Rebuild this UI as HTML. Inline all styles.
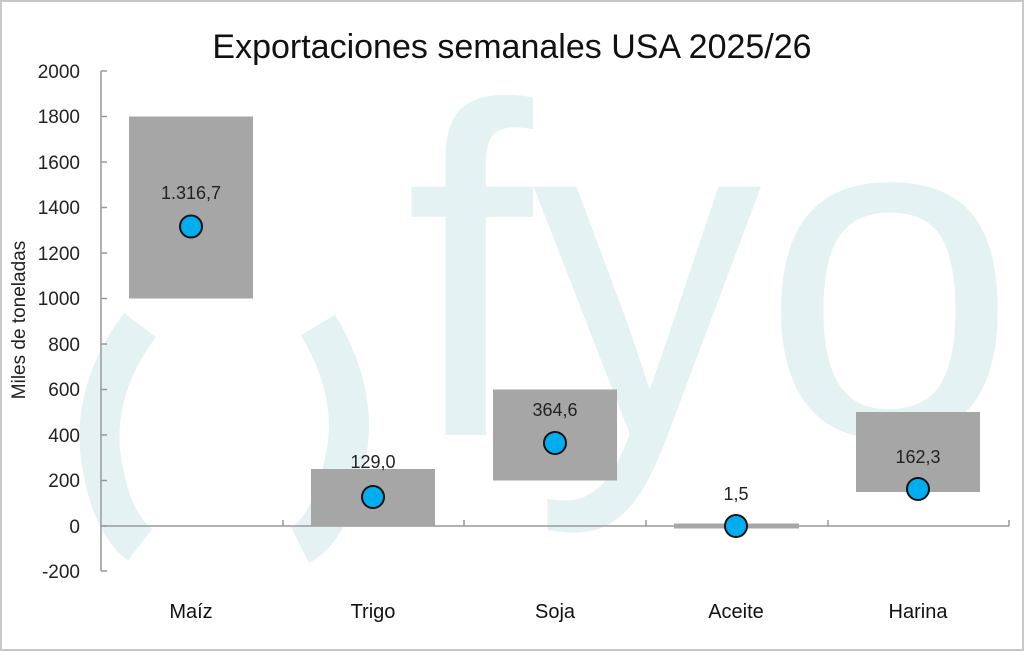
<!DOCTYPE html>
<html><head><meta charset="utf-8"><style>
html,body{margin:0;padding:0;background:#fff}
svg{display:block}
text{font-family:"Liberation Sans",sans-serif}
</style></head><body>
<svg width="1024" height="651" viewBox="0 0 1024 651" xmlns="http://www.w3.org/2000/svg">
<rect x="1" y="1" width="1022" height="649" fill="#fff" stroke="#c8c8c8" stroke-width="2"/>
<text x="405" y="435" font-size="470" fill="#e5f2f4" textLength="612" lengthAdjust="spacingAndGlyphs">fyo</text>
<path d="M140 325 Q95 385 100 450 Q108 520 140 545" fill="none" stroke="#e5f2f4" stroke-width="40"/>
<path d="M318 325 Q360 395 345 460 Q330 530 300 545" fill="none" stroke="#e5f2f4" stroke-width="40"/>
<text x="512" y="58" font-size="34" text-anchor="middle" fill="#111">Exportaciones semanales USA 2025/26</text>
<g stroke="#999" stroke-width="1.5">
<line x1="101" y1="71" x2="101" y2="571"/>
<line x1="101" y1="71" x2="107" y2="71"/><line x1="101" y1="116.5" x2="107" y2="116.5"/>
<line x1="101" y1="162" x2="107" y2="162"/><line x1="101" y1="207.5" x2="107" y2="207.5"/>
<line x1="101" y1="253" x2="107" y2="253"/><line x1="101" y1="298.5" x2="107" y2="298.5"/>
<line x1="101" y1="344" x2="107" y2="344"/><line x1="101" y1="389.5" x2="107" y2="389.5"/>
<line x1="101" y1="435" x2="107" y2="435"/><line x1="101" y1="480.5" x2="107" y2="480.5"/>
<line x1="101" y1="526" x2="107" y2="526"/><line x1="101" y1="571" x2="107" y2="571"/>
<line x1="101" y1="526" x2="1009" y2="526"/>
<line x1="283" y1="520" x2="283" y2="526"/><line x1="464" y1="520" x2="464" y2="526"/>
<line x1="646" y1="520" x2="646" y2="526"/><line x1="828" y1="520" x2="828" y2="526"/>
<line x1="1009" y1="520" x2="1009" y2="526"/>
</g>
<g font-size="19" fill="#222" text-anchor="end">
<text x="80" y="78">2000</text><text x="80" y="123">1800</text><text x="80" y="169">1600</text>
<text x="80" y="214">1400</text><text x="80" y="260">1200</text><text x="80" y="305">1000</text>
<text x="80" y="351">800</text><text x="80" y="396">600</text><text x="80" y="442">400</text>
<text x="80" y="487">200</text><text x="80" y="533">0</text><text x="80" y="578">-200</text>
</g>
<text transform="translate(25,320) rotate(-90)" font-size="19" fill="#222" text-anchor="middle">Miles de toneladas</text>
<g fill="#a6a6a6">
<rect x="129" y="116.5" width="124" height="182"/>
<rect x="311" y="469" width="124" height="57"/>
<rect x="493" y="389.5" width="124" height="91"/>
<rect x="674" y="523.5" width="125" height="5"/>
<rect x="856" y="412" width="124" height="80"/>
</g>
<g fill="#00aeef" stroke="#111" stroke-width="2">
<circle cx="191" cy="226.5" r="11"/>
<circle cx="373" cy="497" r="11"/>
<circle cx="555" cy="443" r="11"/>
<circle cx="736" cy="526" r="11"/>
<circle cx="918" cy="489" r="11"/>
</g>
<g font-size="18" fill="#222" text-anchor="middle">
<text x="191" y="199">1.316,7</text>
<text x="373" y="468">129,0</text>
<text x="555" y="416">364,6</text>
<text x="736" y="500">1,5</text>
<text x="918" y="463">162,3</text>
</g>
<g font-size="20" fill="#111" text-anchor="middle">
<text x="191" y="618">Maíz</text><text x="373" y="618">Trigo</text><text x="555" y="618">Soja</text>
<text x="736" y="618">Aceite</text><text x="918" y="618">Harina</text>
</g>
</svg>
</body></html>
